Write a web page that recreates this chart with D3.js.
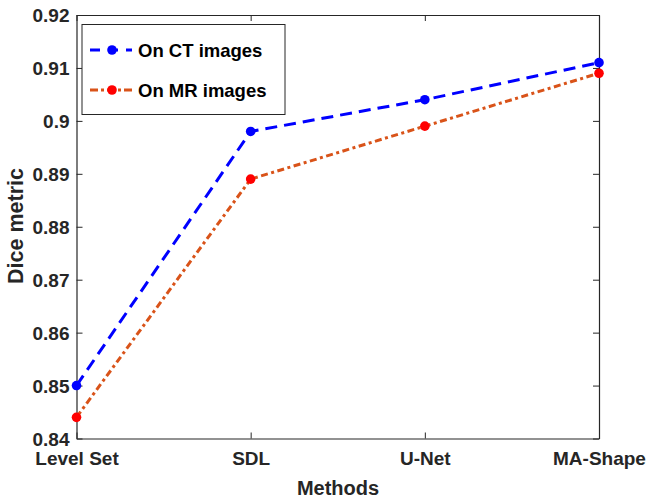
<!DOCTYPE html>
<html>
<head>
<meta charset="utf-8">
<script src="https://cdn.jsdelivr.net/npm/d3@7"></script>
<style>
  body { margin: 0; background: #fff; }
  text { font-family: "Liberation Sans", Arial, sans-serif; font-weight: bold; }
</style>
</head>
<body>
<script>
// Données
const methods = ["Level Set", "SDL", "U-Net", "MA-Shape"];
const ctValues = [0.850, 0.898, 0.904, 0.911];
const mrValues = [0.844, 0.889, 0.899, 0.909];
const yTicks = [0.84, 0.85, 0.86, 0.87, 0.88, 0.89, 0.9, 0.91, 0.92];

const width = 647, height = 500;
const margin = { top: 15, right: 48, bottom: 61.5, left: 76.5 };

const svg = d3.select("body").append("svg")
  .attr("width", width)
  .attr("height", height);

const x = d3.scalePoint()
  .domain(methods)
  .range([margin.left, width - margin.right]);

const y = d3.scaleLinear()
  .domain([0.84, 0.92])
  .range([height - margin.bottom, margin.top]);

const axisColor = "#262626";

// axes façon MATLAB (boîte avec graduations vers l'intérieur)
const gx = svg.append("g")
  .attr("transform", `translate(0,${height - margin.bottom})`)
  .call(d3.axisBottom(x).tickSizeInner(-6).tickSizeOuter(0).tickPadding(13));
const gxTop = svg.append("g")
  .attr("transform", `translate(0,${margin.top})`)
  .call(d3.axisTop(x).tickSizeInner(-6).tickSizeOuter(0).tickFormat(""));
const gy = svg.append("g")
  .attr("transform", `translate(${margin.left},0)`)
  .call(d3.axisLeft(y).tickValues(yTicks).tickSizeInner(-6).tickSizeOuter(0)
    .tickFormat(d => d3.format("")(+d.toFixed(2))).tickPadding(7));
const gyRight = svg.append("g")
  .attr("transform", `translate(${width - margin.right},0)`)
  .call(d3.axisRight(y).tickValues(yTicks).tickSizeInner(-6).tickSizeOuter(0).tickFormat(""));

[gx, gxTop, gy, gyRight].forEach(g => {
  g.select(".domain").attr("stroke", axisColor).attr("stroke-width", 1.2);
  g.selectAll(".tick line").attr("stroke", axisColor);
  g.selectAll(".tick text")
    .attr("fill", "#262626")
    .style("font-size", "19px")
    .style("font-family", "'Liberation Sans', Arial, sans-serif")
    .style("font-weight", "bold");
});
gy.selectAll(".tick text").attr("dy", "0.36em");

// titres des axes
svg.append("text")
  .attr("x", 338)
  .attr("y", 495)
  .attr("text-anchor", "middle")
  .attr("font-size", "20px")
  .attr("fill", "#262626")
  .text("Methods");

svg.append("text")
  .attr("transform", "translate(23,226) rotate(-90)")
  .attr("text-anchor", "middle")
  .attr("font-size", "21.5px")
  .attr("fill", "#262626")
  .text("Dice metric");

// séries
const series = [
  { name: "On CT images", values: ctValues, line: "#0000ff", marker: "#0000ff", dash: "12,7" },
  { name: "On MR images", values: mrValues, line: "#D95319", marker: "#ff0000", dash: "7,3.5,3,3.5" }
];

const line = d3.line()
  .x((d, i) => x(methods[i]))
  .y(d => y(d));

series.forEach(s => {
  svg.append("path")
    .datum(s.values)
    .attr("d", line)
    .attr("fill", "none")
    .attr("stroke", s.line)
    .attr("stroke-width", 3)
    .attr("stroke-dasharray", s.dash);

  svg.selectAll(null)
    .data(s.values)
    .enter()
    .append("circle")
    .attr("cx", (d, i) => x(methods[i]))
    .attr("cy", d => y(d))
    .attr("r", 4.8)
    .attr("fill", s.marker);
});

// légende
const legend = svg.append("g");
legend.append("rect")
  .attr("x", 82)
  .attr("y", 24.5)
  .attr("width", 203)
  .attr("height", 90)
  .attr("fill", "#fff")
  .attr("stroke", axisColor)
  .attr("stroke-width", 1);

series.forEach((s, i) => {
  const ly = 50 + i * 40;
  legend.append("line")
    .attr("x1", 90).attr("x2", 132)
    .attr("y1", ly).attr("y2", ly)
    .attr("stroke", s.line)
    .attr("stroke-width", 3)
    .attr("stroke-dasharray", i === 0 ? "10,8" : "8,3,3,3");
  legend.append("circle")
    .attr("cx", 112).attr("cy", ly)
    .attr("r", 4.8)
    .attr("fill", s.marker);
  legend.append("text")
    .attr("x", 138)
    .attr("y", ly + 6.8)
    .attr("font-size", "18.5px")
    .attr("fill", "#000")
    .text(s.name);
});
</script>
</body>
</html>
